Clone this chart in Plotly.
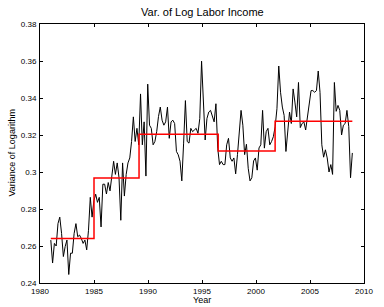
import numpy as np
import plotly.graph_objects as go

# Bimonthly variance of log labor income, 1981 - 2008
var_1981_1988 = [
    0.2632, 0.2508, 0.2614, 0.2600, 0.2721, 0.2756,
    0.2668, 0.2543, 0.2597, 0.2632, 0.2446, 0.2561,
    0.2561, 0.2668, 0.2721, 0.2650, 0.2659, 0.2641,
    0.2614, 0.2632, 0.2579, 0.2685, 0.2863, 0.2756,
    0.2845, 0.2880, 0.2836, 0.2863, 0.2703, 0.2934,
    0.2934, 0.2881, 0.2943, 0.2898, 0.2978, 0.3058,
    0.2987, 0.3049, 0.2970, 0.2739, 0.3049, 0.2870,
    0.2987, 0.3049, 0.3076, 0.3165, 0.3298, 0.3165,
]
var_1989_1996 = [
    0.3236, 0.3147, 0.3422, 0.3147, 0.3271, 0.2978,
    0.3475, 0.3253, 0.3236, 0.3147, 0.3165, 0.3218,
    0.3300, 0.3351, 0.3280, 0.3253, 0.3271, 0.3351,
    0.3182, 0.3271, 0.3280, 0.3262, 0.3111, 0.3093,
    0.3058, 0.2952, 0.3156, 0.3386, 0.3165, 0.3156,
    0.3236, 0.3218, 0.3227, 0.3236, 0.3209, 0.3289,
    0.3599, 0.3360, 0.3173, 0.3289, 0.3324, 0.3333,
    0.3306, 0.3271, 0.3369, 0.3129, 0.3040, 0.3058,
]
var_1997_2004 = [
    0.3040, 0.3040, 0.3147, 0.3182, 0.3076, 0.3058,
    0.3076, 0.2990, 0.3094, 0.3236, 0.3333, 0.3253,
    0.3094, 0.3150, 0.3020, 0.2952, 0.2969, 0.3060,
    0.3076, 0.3010, 0.3130, 0.3147, 0.3333, 0.3129,
    0.3218, 0.3236, 0.3147, 0.3165, 0.3191, 0.3245,
    0.3342, 0.3573, 0.3431, 0.3351, 0.3306, 0.3111,
    0.3218, 0.3324, 0.3262, 0.3449, 0.3378, 0.3298,
    0.3484, 0.3240, 0.3262, 0.3271, 0.3227, 0.3306,
]
var_2005_2008 = [
    0.3378, 0.3440, 0.3440, 0.3431, 0.3440, 0.3546,
    0.3430, 0.3147, 0.3080, 0.3120, 0.3076, 0.3000,
    0.3040, 0.2987, 0.3484, 0.3328, 0.3360, 0.3333,
    0.3200, 0.3253, 0.3262, 0.3333, 0.3245, 0.2969,
    0.3103,
]
series = var_1981_1988 + var_1989_1996 + var_1997_2004 + var_2005_2008
year_start, year_end = 1981.0, 2008.92
years = np.linspace(year_start, year_end, len(series))

# Regime means (red step)
break_years = [1981.0, 1985.0, 1989.17, 1996.5, 2001.77, 2008.92]
regime_means = [0.2641, 0.2968, 0.3204, 0.3113, 0.3274]

step_x, step_y = [], []
for i, m in enumerate(regime_means):
    step_x += [break_years[i], break_years[i + 1]]
    step_y += [m, m]

x_ticks = [1980, 1985, 1990, 1995, 2000, 2005, 2010]
y_ticks = [0.24, 0.26, 0.28, 0.30, 0.32, 0.34, 0.36, 0.38]
y_ticktext = ["0.24", "0.26", "0.28", "0.3", "0.32", "0.34", "0.36", "0.38"]

FONT = "Liberation Sans, Arial, Helvetica, sans-serif"

fig = go.Figure()
fig.add_trace(go.Scatter(x=years, y=series, mode="lines",
                         line=dict(color="black", width=1), showlegend=False))
fig.add_trace(go.Scatter(x=step_x, y=step_y, mode="lines",
                         line=dict(color="red", width=1.5), showlegend=False))

axis_common = dict(showgrid=False, zeroline=False, showline=True, linecolor="black",
                   linewidth=1, mirror="ticks", ticks="inside", ticklen=3,
                   tickcolor="black", tickfont=dict(family=FONT, size=8, color="black"))

fig.update_layout(
    width=384, height=307,
    margin=dict(l=40, r=11, t=24, b=20),
    paper_bgcolor="white", plot_bgcolor="white",
    xaxis=dict(range=[1980, 2010], tickvals=x_ticks, ticklabelstandoff=0, **axis_common),
    yaxis=dict(range=[0.24, 0.38], tickvals=y_ticks, ticktext=y_ticktext,
               ticklabelstandoff=1, **axis_common),
    annotations=[
        dict(text="Var. of Log Labor Income", x=0.5, y=1, xref="paper", yref="paper",
             xanchor="center", yanchor="bottom", yshift=4, showarrow=False,
             font=dict(family=FONT, size=11, color="black")),
        dict(text="Year", x=0.5, y=0, xref="paper", yref="paper",
             xanchor="center", yanchor="top", yshift=-10, showarrow=False,
             font=dict(family=FONT, size=9, color="black")),
        dict(text="Variance of Logarithm", x=0, y=0.5, xref="paper", yref="paper",
             xanchor="right", yanchor="middle", xshift=-22, textangle=-90,
             showarrow=False, font=dict(family=FONT, size=9, color="black")),
    ],
)

fig.write_html("out.html", config={"displayModeBar": False},
               post_script="document.body.style.margin='0';document.body.style.overflow='hidden';")
